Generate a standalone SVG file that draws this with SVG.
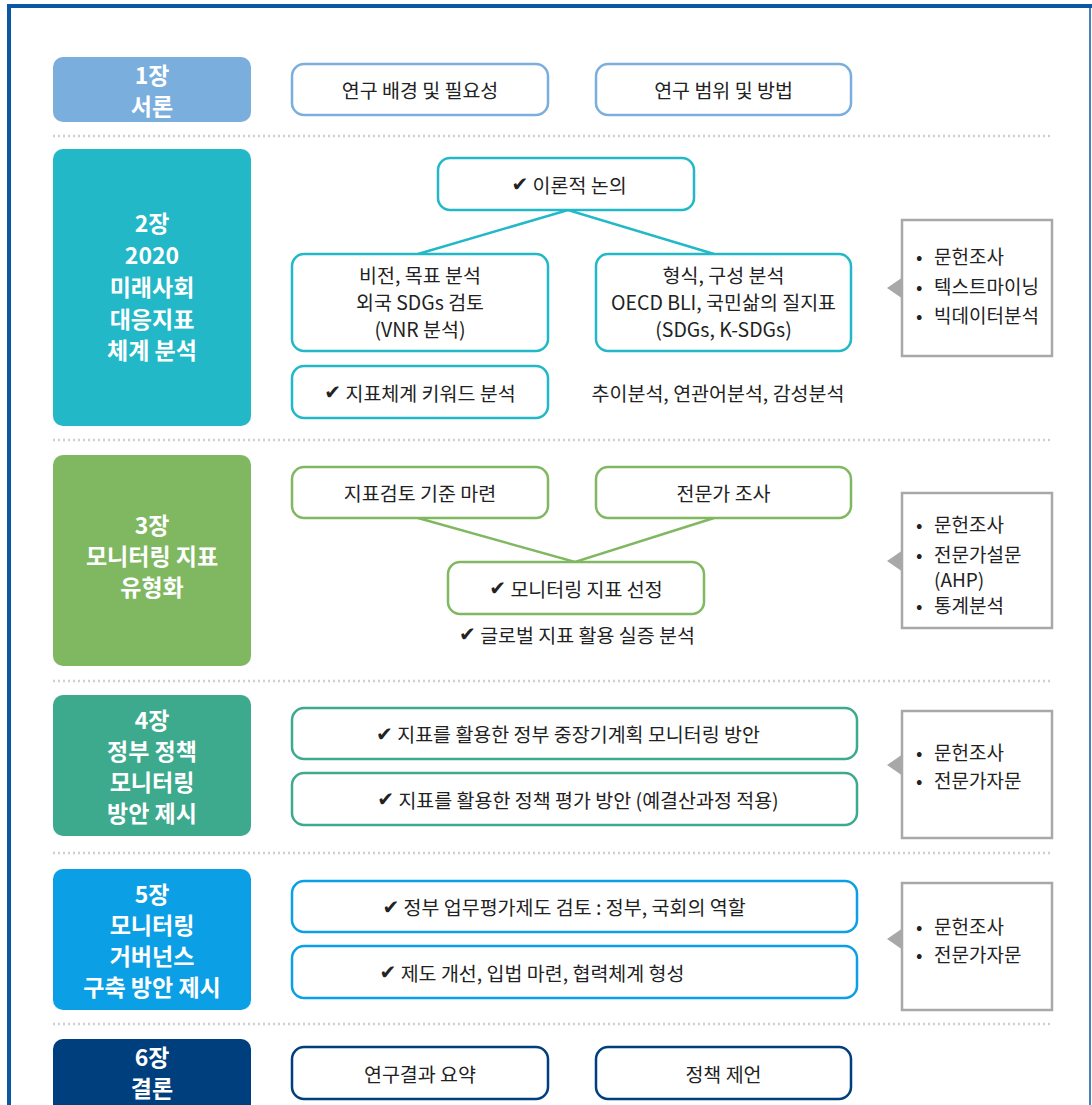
<svg xmlns="http://www.w3.org/2000/svg" width="1092" height="1105" viewBox="0 0 1092 1105">
  <style>
    text { font-family: "Noto Sans CJK KR", "Noto Sans", sans-serif; }
    .ch { font-size: 23px; font-weight: 700; fill: #ffffff; text-anchor: middle; }
    .t { font-size: 19.5px; fill: #222222; text-anchor: middle; }
    .s { font-size: 19px; fill: #222222; }
    .ck { font-family: "DejaVu Sans", sans-serif; font-size: 20px; }
    .box { fill: #ffffff; stroke-width: 2.5; }
    .side { fill: #ffffff; stroke: #a8a8a8; stroke-width: 2.5; }
    .sep { stroke: #cfcfcf; stroke-width: 2.5; stroke-dasharray: 2 3; }
    .c1 { stroke: #7aaedd; } .c2 { stroke: #22b8c7; } .c3 { stroke: #80b862; }
    .c4 { stroke: #3daa8d; } .c5 { stroke: #0ba0e6; } .c6 { stroke: #003f7e; }
  </style>

  <rect width="1092" height="1105" fill="#ffffff"/>
  <!-- outer frame -->
  <line x1="9" y1="4" x2="9" y2="1105" stroke="#0b57a4" stroke-width="4"/>
  <line x1="7" y1="6" x2="1092" y2="6" stroke="#0b57a4" stroke-width="4"/>
  <line x1="1090" y1="6" x2="1090" y2="1105" stroke="#0b57a4" stroke-width="1.5"/>

  <!-- section separators -->
  <g id="separators">
    <line class="sep" x1="53" y1="136" x2="1052" y2="136"/>
    <line class="sep" x1="53" y1="440" x2="1052" y2="440"/>
    <line class="sep" x1="53" y1="681" x2="1052" y2="681"/>
    <line class="sep" x1="53" y1="853" x2="1052" y2="853"/>
    <line class="sep" x1="53" y1="1024" x2="1052" y2="1024"/>
  </g>

  <!-- connectors -->
  <g id="connectors" stroke-width="2.5" fill="none">
    <polyline class="c2" points="418,254 568,210 714,254"/>
    <polyline class="c3" points="418,518 575,562 714,518"/>
  </g>

  <!-- chapter 1 -->
  <g id="ch1">
    <rect x="53" y="57" width="198" height="65" rx="10" fill="#7aaedd"/>
    <text class="ch" x="152" y="73.5" dominant-baseline="central">1장</text>
    <text class="ch" x="152" y="104.5" dominant-baseline="central">서론</text>
  </g>
  <g id="ch1-background">
    <rect class="box c1" x="292" y="64" width="256" height="51" rx="12"/>
    <text class="t" x="420" y="89.5" dominant-baseline="central">연구 배경 및 필요성</text>
  </g>
  <g id="ch1-scope">
    <rect class="box c1" x="596" y="64" width="255" height="51" rx="12"/>
    <text class="t" x="723.5" y="89.5" dominant-baseline="central">연구 범위 및 방법</text>
  </g>

  <!-- chapter 2 -->
  <g id="ch2">
    <rect x="53" y="149" width="198" height="277" rx="10" fill="#22b8c7"/>
    <text class="ch" x="152" y="222" dominant-baseline="central">2장</text>
    <text class="ch" x="152" y="254" dominant-baseline="central">2020</text>
    <text class="ch" x="152" y="286" dominant-baseline="central">미래사회</text>
    <text class="ch" x="152" y="318" dominant-baseline="central">대응지표</text>
    <text class="ch" x="152" y="349" dominant-baseline="central">체계 분석</text>
  </g>
  <g id="ch2-theory">
    <rect class="box c2" x="438" y="158" width="256" height="52" rx="12"/>
    <text class="t" x="569" y="184" dominant-baseline="central"><tspan class="ck">✔</tspan> 이론적 논의</text>
  </g>
  <g id="ch2-vision">
    <rect class="box c2" x="292" y="254" width="256" height="97" rx="12"/>
    <text class="t" x="420" y="274" dominant-baseline="central">비전, 목표 분석</text>
    <text class="t" x="420" y="301" dominant-baseline="central">외국 SDGs 검토</text>
    <text class="t" x="420" y="328" dominant-baseline="central">(VNR 분석)</text>
  </g>
  <g id="ch2-format">
    <rect class="box c2" x="596" y="254" width="255" height="97" rx="12"/>
    <text class="t" x="723.5" y="274" dominant-baseline="central">형식, 구성 분석</text>
    <text class="t" x="723.5" y="301" dominant-baseline="central">OECD BLI, 국민삶의 질지표</text>
    <text class="t" x="723.5" y="328" dominant-baseline="central">(SDGs, K-SDGs)</text>
  </g>
  <g id="ch2-keyword">
    <rect class="box c2" x="292" y="366" width="256" height="52" rx="12"/>
    <text class="t" x="420" y="392" dominant-baseline="central"><tspan class="ck">✔</tspan> 지표체계 키워드 분석</text>
  </g>
  <g id="ch2-trend">
    <text class="t" x="718" y="392" dominant-baseline="central">추이분석, 연관어분석, 감성분석</text>
  </g>
  <g id="ch2-methods">
    <rect class="side" x="902" y="220" width="150" height="136"/>
    <polygon points="887,288 903,277 903,299" fill="#a8a8a8"/>
    <text class="s" x="916" y="255" dominant-baseline="central">•</text>
    <text class="s" x="934" y="255" dominant-baseline="central">문헌조사</text>
    <text class="s" x="916" y="285" dominant-baseline="central">•</text>
    <text class="s" x="934" y="285" dominant-baseline="central">텍스트마이닝</text>
    <text class="s" x="916" y="314" dominant-baseline="central">•</text>
    <text class="s" x="934" y="314" dominant-baseline="central">빅데이터분석</text>
  </g>

  <!-- chapter 3 -->
  <g id="ch3">
    <rect x="53" y="455" width="198" height="211" rx="10" fill="#80b862"/>
    <text class="ch" x="152" y="524" dominant-baseline="central">3장</text>
    <text class="ch" x="152" y="555" dominant-baseline="central">모니터링 지표</text>
    <text class="ch" x="152" y="586" dominant-baseline="central">유형화</text>
  </g>
  <g id="ch3-criteria">
    <rect class="box c3" x="292" y="467" width="256" height="51" rx="12"/>
    <text class="t" x="420" y="492.5" dominant-baseline="central">지표검토 기준 마련</text>
  </g>
  <g id="ch3-survey">
    <rect class="box c3" x="596" y="467" width="255" height="51" rx="12"/>
    <text class="t" x="723.5" y="492.5" dominant-baseline="central">전문가 조사</text>
  </g>
  <g id="ch3-select">
    <rect class="box c3" x="448" y="562" width="256" height="52" rx="12"/>
    <text class="t" x="576" y="588" dominant-baseline="central"><tspan class="ck">✔</tspan> 모니터링 지표 선정</text>
  </g>
  <g id="ch3-global">
    <text class="t" x="577" y="634" dominant-baseline="central"><tspan class="ck">✔</tspan> 글로벌 지표 활용 실증 분석</text>
  </g>
  <g id="ch3-methods">
    <rect class="side" x="902" y="493" width="150" height="135"/>
    <polygon points="887,561 903,550 903,572" fill="#a8a8a8"/>
    <text class="s" x="916" y="523" dominant-baseline="central">•</text>
    <text class="s" x="934" y="523" dominant-baseline="central">문헌조사</text>
    <text class="s" x="916" y="553" dominant-baseline="central">•</text>
    <text class="s" x="934" y="553" dominant-baseline="central">전문가설문</text>
    <text class="s" x="934" y="578" dominant-baseline="central">(AHP)</text>
    <text class="s" x="916" y="604" dominant-baseline="central">•</text>
    <text class="s" x="934" y="604" dominant-baseline="central">통계분석</text>
  </g>

  <!-- chapter 4 -->
  <g id="ch4">
    <rect x="53" y="695" width="198" height="141" rx="10" fill="#3daa8d"/>
    <text class="ch" x="152" y="719" dominant-baseline="central">4장</text>
    <text class="ch" x="152" y="750" dominant-baseline="central">정부 정책</text>
    <text class="ch" x="152" y="781" dominant-baseline="central">모니터링</text>
    <text class="ch" x="152" y="812" dominant-baseline="central">방안 제시</text>
  </g>
  <g id="ch4-plan">
    <rect class="box c4" x="292" y="708" width="565" height="51" rx="12"/>
    <text class="t" x="568" y="733.5" dominant-baseline="central"><tspan class="ck">✔</tspan> 지표를 활용한 정부 중장기계획 모니터링 방안</text>
  </g>
  <g id="ch4-eval">
    <rect class="box c4" x="292" y="773" width="565" height="52" rx="12"/>
    <text class="t" x="578" y="799" dominant-baseline="central"><tspan class="ck">✔</tspan> 지표를 활용한 정책 평가 방안 (예결산과정 적용)</text>
  </g>
  <g id="ch4-methods">
    <rect class="side" x="902" y="711" width="150" height="127"/>
    <polygon points="887,765 903,754 903,776" fill="#a8a8a8"/>
    <text class="s" x="916" y="751" dominant-baseline="central">•</text>
    <text class="s" x="934" y="751" dominant-baseline="central">문헌조사</text>
    <text class="s" x="916" y="779" dominant-baseline="central">•</text>
    <text class="s" x="934" y="779" dominant-baseline="central">전문가자문</text>
  </g>

  <!-- chapter 5 -->
  <g id="ch5">
    <rect x="53" y="869" width="198" height="141" rx="10" fill="#0ba0e6"/>
    <text class="ch" x="152" y="893" dominant-baseline="central">5장</text>
    <text class="ch" x="152" y="924" dominant-baseline="central">모니터링</text>
    <text class="ch" x="152" y="955" dominant-baseline="central">거버넌스</text>
    <text class="ch" x="152" y="986" dominant-baseline="central">구축 방안 제시</text>
  </g>
  <g id="ch5-review">
    <rect class="box c5" x="292" y="881" width="565" height="51" rx="12"/>
    <text class="t" x="564" y="906.5" dominant-baseline="central"><tspan class="ck">✔</tspan> 정부 업무평가제도 검토 : 정부, 국회의 역할</text>
  </g>
  <g id="ch5-reform">
    <rect class="box c5" x="292" y="946" width="565" height="52" rx="12"/>
    <text class="t" x="532" y="972" dominant-baseline="central"><tspan class="ck">✔</tspan> 제도 개선, 입법 마련, 협력체계 형성</text>
  </g>
  <g id="ch5-methods">
    <rect class="side" x="902" y="883" width="150" height="127"/>
    <polygon points="887,939 903,928 903,950" fill="#a8a8a8"/>
    <text class="s" x="916" y="925" dominant-baseline="central">•</text>
    <text class="s" x="934" y="925" dominant-baseline="central">문헌조사</text>
    <text class="s" x="916" y="953" dominant-baseline="central">•</text>
    <text class="s" x="934" y="953" dominant-baseline="central">전문가자문</text>
  </g>

  <!-- chapter 6 -->
  <g id="ch6">
    <rect x="53" y="1039" width="198" height="80" rx="10" fill="#003f7e"/>
    <text class="ch" x="152" y="1055.5" dominant-baseline="central">6장</text>
    <text class="ch" x="152" y="1086.5" dominant-baseline="central">결론</text>
  </g>
  <g id="ch6-summary">
    <rect class="box c6" x="292" y="1047" width="256" height="52" rx="12"/>
    <text class="t" x="420" y="1073" dominant-baseline="central">연구결과 요약</text>
  </g>
  <g id="ch6-policy">
    <rect class="box c6" x="596" y="1047" width="255" height="52" rx="12"/>
    <text class="t" x="723.5" y="1073" dominant-baseline="central">정책 제언</text>
  </g>
</svg>
